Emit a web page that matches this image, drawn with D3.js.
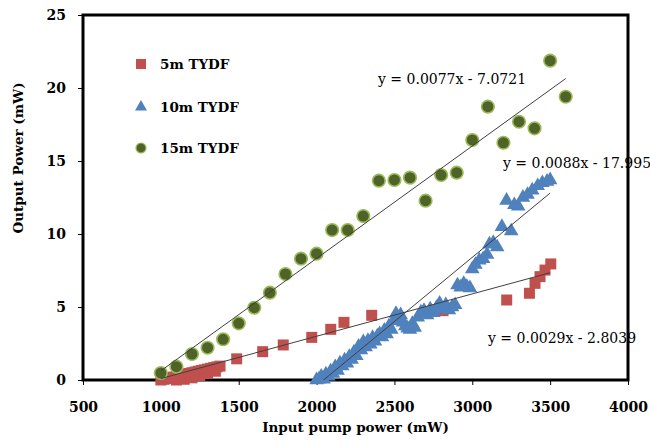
<!DOCTYPE html>
<html>
<head>
<meta charset="utf-8">
<script src="https://cdn.jsdelivr.net/npm/d3@7"></script>
<style>
  body { margin: 0; background: #fff; }
  .tick text { font-family: "DejaVu Serif", serif; font-weight: bold; font-size: 14px; fill: #000; }
  .tick line { stroke: #000; stroke-width: 1; }
  .title { font-family: "DejaVu Serif", serif; font-weight: bold; font-size: 13.5px; fill: #000; }
  .legend text { font-family: "DejaVu Serif", serif; font-weight: bold; font-size: 13.5px; fill: #000; }
  .eq { font-family: "DejaVu Serif", serif; font-size: 14px; fill: #000; }
</style>
</head>
<body>
<div id="chart"></div>
<script>
// ticks
const xTicks = [500, 1000, 1500, 2000, 2500, 3000, 3500, 4000];
const yTicks = [0, 5, 10, 15, 20, 25];

// 5m TYDF (red squares)
const red5mX = [1000, 1020, 1040, 1060, 1080, 1100, 1100, 1120, 1140, 1150, 1160, 1180, 1200, 1200,
                1220, 1240, 1250, 1260, 1280, 1300, 1300, 1320, 1340, 1350, 1360, 1380,
                1487, 1654, 1786, 1969, 2091, 2176, 2354, 2812, 3221, 3367, 3403, 3435, 3467, 3504];
const red5mY = [0, 0.05, 0.1, 0.1, 0.2, 0.25, 0.0, 0.3, 0.35, 0.05, 0.4, 0.45, 0.5, 0.15,
                0.55, 0.6, 0.3, 0.65, 0.7, 0.75, 0.45, 0.8, 0.85, 0.6, 0.9, 0.95,
                1.45, 1.94, 2.4, 2.92, 3.47, 3.95, 4.43, 4.75, 5.48, 5.94, 6.62, 7.08, 7.53, 7.95];

// 10m TYDF (blue triangles)
const blue10mX = [2000, 2015, 2030, 2045, 2060, 2075, 2090, 2105, 2120, 2135, 2150, 2165, 2180, 2195,
                  2210, 2225, 2240, 2255, 2270, 2285, 2300, 2315, 2330, 2345, 2360, 2375, 2390, 2405,
                  2420, 2435, 2450, 2465, 2480, 2495, 2510, 2525, 2540, 2555, 2570, 2585, 2600, 2615,
                  2630, 2650, 2670, 2690, 2710, 2730, 2750, 2770, 2790, 2810, 2830, 2850, 2870, 2890,
                  2905, 2925, 2945, 2965, 2985, 3000, 3020, 3045, 3070, 3095, 3110, 3135, 3160, 3190,
                  3220, 3250, 3270, 3295, 3325, 3355, 3385, 3420, 3450, 3480, 3500];
const blue10mY = [0.0, 0.05, 0.25, 0.05, 0.4, 0.25, 0.6, 0.45, 0.9, 0.65, 1.15, 0.95, 1.35, 1.15,
                  1.6, 1.4, 1.9, 1.65, 2.3, 2.05, 2.6, 2.25, 2.7, 2.45, 2.9, 2.65, 3.0, 3.15,
                  2.95, 3.4, 3.15, 3.7, 3.45, 4.05, 4.55, 4.15, 4.45, 3.95, 3.7, 3.55, 3.45, 3.85,
                  3.6, 4.3, 4.65, 4.75, 4.45, 4.85, 4.6, 4.95, 5.25, 4.85, 5.15, 4.8, 5.0, 5.15,
                  6.5, 6.35, 6.6, 6.4, 6.3, 7.6, 7.9, 8.2, 8.3, 8.6, 9.3, 9.4, 9.1, 10.5,
                  12.3, 10.2, 12.0, 11.9, 12.5, 12.7, 13.0, 13.3, 13.5, 13.6, 13.7];

// 15m TYDF (green circles)
const green15mX = [1000, 1100, 1200, 1300, 1400, 1500, 1600, 1700, 1800, 1900, 2000, 2100, 2200, 2300,
                   2400, 2500, 2600, 2700, 2800, 2900, 3000, 3100, 3200, 3300, 3400, 3500, 3600];
const green15mY = [0.48, 0.91, 1.78, 2.21, 2.79, 3.88, 4.95, 5.98, 7.26, 8.31, 8.65, 10.27, 10.27, 11.23,
                   13.65, 13.7, 13.86, 12.28, 14.04, 14.2, 16.44, 18.72, 16.25, 17.69, 17.24, 21.87, 19.4];

// linear trendlines (Excel)
const seriesNames = ["5m TYDF", "10m TYDF", "15m TYDF"];
const trendSlope = [0.0029, 0.0088, 0.0077];
const trendIntercept = [-2.8039, -17.995, -7.0721];
const trendFrom = [1000, 2000, 1000];
const trendTo = [3500, 3500, 3600];
const trendLabels = ["y = 0.0029x - 2.8039", "y = 0.0088x - 17.995", "y = 0.0077x - 7.0721"];

let margins = { left: 83, right: 22, top: 15, bottom: 61 };
let width = 650 - margins.left - margins.right;
let height = 441 - margins.top - margins.bottom;

let svg = d3.select("#chart").append("svg")
            .attr("width", 650)
            .attr("height", 441);

let g = svg.append("g")
           .attr("transform", `translate(${margins.left},${margins.top})`);

let xScale = d3.scaleLinear().domain([500, 4000]).range([0, width]);
let yScale = d3.scaleLinear().domain([0, 25]).range([height, 0]);

// axes
let xAxis = g.append("g")
             .attr("transform", `translate(0,${height})`)
             .call(d3.axisBottom(xScale).tickValues(xTicks).tickSize(5).tickPadding(17).tickFormat(d3.format("d")));
let yAxis = g.append("g")
             .call(d3.axisLeft(yScale).tickValues(yTicks).tickSize(5).tickPadding(12).tickFormat(d3.format("d")));
xAxis.select(".domain").remove();
yAxis.select(".domain").remove();

// frame
g.append("rect")
 .attr("x", 0).attr("y", 0)
 .attr("width", width).attr("height", height)
 .attr("fill", "none")
 .attr("stroke", "#000")
 .attr("stroke-width", 3);

// markers
const colors = {
  red: "#C0504D",
  blue: "#4F81BD",
  greenFill: "#4F6228",
  greenStroke: "#9BBB59"
};

let redData = red5mX.map((x, i) => ({ x: x, y: red5mY[i] }));
let blueData = blue10mX.map((x, i) => ({ x: x, y: blue10mY[i] }));
let greenData = green15mX.map((x, i) => ({ x: x, y: green15mY[i] }));

g.append("g").selectAll("path")
 .data(redData).enter().append("path")
 .attr("d", d3.symbol().type(d3.symbolSquare).size(121))
 .attr("transform", d => `translate(${xScale(d.x)},${yScale(d.y)})`)
 .attr("fill", colors.red);

g.append("g").selectAll("path")
 .data(blueData).enter().append("path")
 .attr("d", d3.symbol().type(d3.symbolTriangle).size(92))
 .attr("transform", d => `translate(${xScale(d.x)},${yScale(d.y)})`)
 .attr("fill", colors.blue);

g.append("g").selectAll("circle")
 .data(greenData).enter().append("circle")
 .attr("cx", d => xScale(d.x))
 .attr("cy", d => yScale(d.y))
 .attr("r", 6.3)
 .attr("fill", colors.greenFill)
 .attr("stroke", colors.greenStroke)
 .attr("stroke-width", 1.6);

// trendlines, clipped to plot area
svg.append("defs").append("clipPath").attr("id", "plotClip")
   .append("rect").attr("width", width).attr("height", height);

let trends = g.append("g").attr("clip-path", "url(#plotClip)");
trendSlope.forEach((m, i) => {
  let pts = [trendFrom[i], trendTo[i]].map(x => [xScale(x), yScale(m * x + trendIntercept[i])]);
  trends.append("path")
        .attr("d", d3.line()(pts))
        .attr("stroke", "#404040")
        .attr("stroke-width", 1)
        .attr("fill", "none");
});

// equation labels
const eqPos = [[488, 343], [503, 168], [378, 84]];
trendLabels.forEach((t, i) => {
  svg.append("text")
     .attr("class", "eq")
     .attr("x", eqPos[i][0])
     .attr("y", eqPos[i][1])
     .text(t);
});

// legend
let legend = svg.append("g").attr("class", "legend");
const legendY = [64, 107, 148];
legend.append("path")
      .attr("d", d3.symbol().type(d3.symbolSquare).size(100))
      .attr("transform", `translate(141,${legendY[0]})`)
      .attr("fill", colors.red);
legend.append("path")
      .attr("d", d3.symbol().type(d3.symbolTriangle).size(62))
      .attr("transform", `translate(141,${legendY[1]})`)
      .attr("fill", colors.blue);
legend.append("circle")
      .attr("cx", 141).attr("cy", legendY[2]).attr("r", 5)
      .attr("fill", colors.greenFill)
      .attr("stroke", colors.greenStroke)
      .attr("stroke-width", 1.2);
seriesNames.forEach((n, i) => {
  legend.append("text")
        .attr("x", 160)
        .attr("y", legendY[i])
        .attr("dy", "0.35em")
        .text(n);
});

// axis titles
svg.append("text")
   .attr("class", "title")
   .attr("text-anchor", "middle")
   .attr("x", margins.left + width / 2)
   .attr("y", 432)
   .text("Input pump power (mW)");

svg.append("text")
   .attr("class", "title")
   .attr("text-anchor", "middle")
   .attr("transform", "translate(23,158) rotate(-90)")
   .text("Output Power (mW)");
</script>
</body>
</html>
